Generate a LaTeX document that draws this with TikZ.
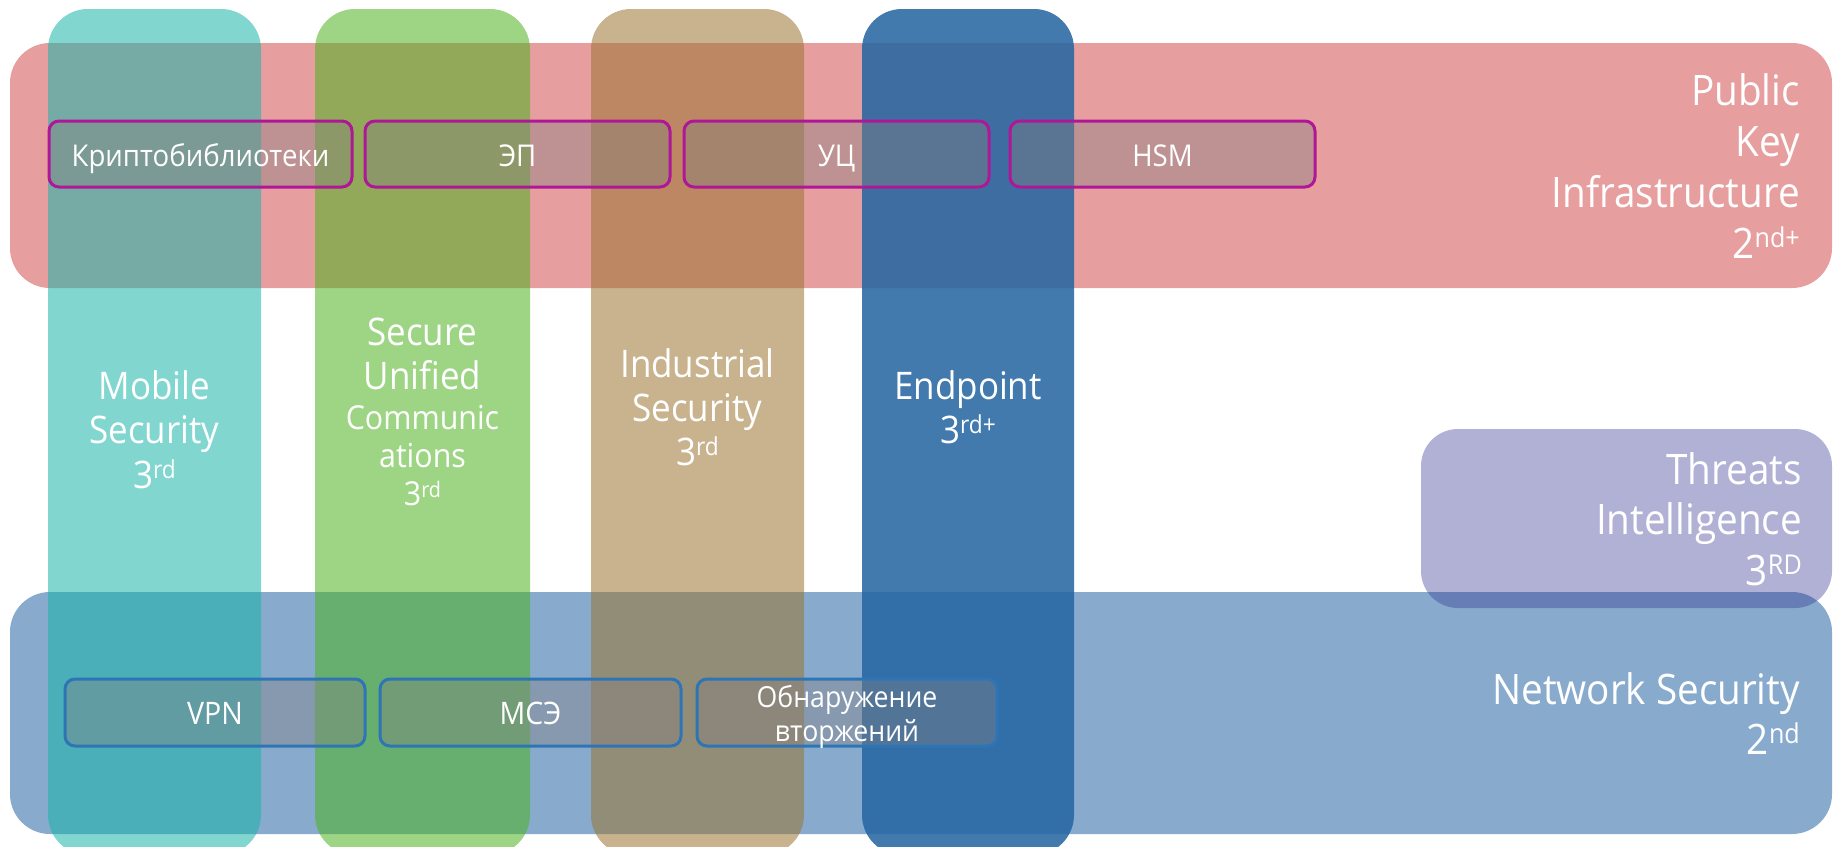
\documentclass[tikz,border=0pt]{standalone}
\usepackage{fontspec}
\setmainfont{Open Sans}[FakeStretch=0.92]
\usepackage{graphicx}
\newcommand\cstack[1]{\vtop{\halign{\hfil##\hfil\cr#1\crcr}}}
\newcommand\rstack[1]{\vtop{\halign{\hfil##\cr#1\crcr}}}
\newcommand\sups[1]{\smash{\raisebox{0.24em}{\scalebox{0.65}{#1}}}}
\newcommand\fs[2]{\fontsize{#1}{#2}\selectfont}
\definecolor{pkiC}{RGB}{230,158,158}
\definecolor{netC}{RGB}{136,171,205}
\definecolor{thrC}{RGB}{52,55,147}
\definecolor{mobC}{RGB}{26,180,170}
\definecolor{grnC}{RGB}{77,179,33}
\definecolor{brnC}{RGB}{155,117,50}
\definecolor{endC}{RGB}{38,102,162}
\definecolor{boxG}{RGB}{132,128,128}
\definecolor{pkiLine}{RGB}{176,22,152}
\definecolor{netLine}{RGB}{46,117,182}
\begin{document}
\begin{tikzpicture}[x=1pt,y=-1pt,
  band/.style={rounded corners=40},
  column/.style={rounded corners=40, fill opacity=0.55},
  pbox/.style={draw=pkiLine, line width=3pt, fill=boxG, fill opacity=0.4, rounded corners=10},
  nbox/.style={draw=netLine, line width=3pt, fill=boxG, fill opacity=0.4, rounded corners=10},
  lbl/.style={text=white, inner sep=0pt}]
\useasboundingbox (0,0) rectangle (1839,846);
% bands
\fill[band, pkiC] (10,43) rectangle (1832,288);
\fill[band, netC] (10,592) rectangle (1832,834);
\fill[rounded corners=37, thrC, fill opacity=0.39] (1421,429) rectangle (1832,608);
% columns
\fill[column, mobC] (48,9) rectangle (261,855);
\fill[column, grnC] (315,9) rectangle (530,855);
\fill[column, brnC] (591,9) rectangle (804,855);
\fill[column, endC, fill opacity=0.87] (862,9) rectangle (1074,855);
% PKI boxes
\draw[pbox] (49,121) rectangle (352,187);
\draw[pbox] (365,121) rectangle (670,187);
\draw[pbox] (684,121) rectangle (989,187);
\draw[pbox] (1010,121) rectangle (1315,187);
% network boxes
\draw[nbox] (65,679) rectangle (365,746);
\draw[nbox] (380,679) rectangle (681,746);
\draw[nbox] (697,679) rectangle (997,746);
% box labels
\node[lbl, anchor=base, font=\fs{30}{36}] (kr) at (200.5,166) {Криптобиблиотеки};
\node[lbl, anchor=base, font=\fs{30}{36}] (ep) at (517.5,166) {ЭП};
\node[lbl, anchor=base, font=\fs{30}{36}] (uc) at (836.5,166) {УЦ};
\node[lbl, anchor=base, font=\fs{30}{36}] (hsm) at (1162.5,166) {HSM};
\node[lbl, anchor=base, font=\fs{31}{36}] (vpn) at (215,724) {VPN};
\node[lbl, anchor=base, font=\fs{31}{36}] (mse) at (530.5,724) {МСЭ};
\node[lbl, anchor=base, font=\fs{29}{34}] (ids) at (847,707) {\cstack{Обнаружение\cr вторжений}};
% column labels
\node[lbl, anchor=base, font=\fs{38}{44.5}] (mob) at (154.5,399) {\cstack{Mobile\cr Security\cr 3\sups{rd}}};
\node[lbl, anchor=base, font=\fs{38}{44}] (suc) at (422.5,345) {\cstack{Secure\cr Unified\cr\noalign{\kern-4pt}{\fs{33}{38}Communic}\cr\noalign{\kern-6pt}{\fs{33}{38}ations}\cr\noalign{\kern-6pt}{\fs{33}{38}3\sups{rd}}}};
\node[lbl, anchor=base, font=\fs{38}{44}] (ind) at (697.5,377) {\cstack{Industrial\cr Security\cr 3\sups{rd}}};
\node[lbl, anchor=base, font=\fs{38}{44}] (endp) at (968,399) {\cstack{Endpoint\cr 3\sups{rd+}}};
% band labels
\node[lbl, anchor=base east, font=\fs{42}{51}] (pki) at (1800,105) {\rstack{Public\cr Key\cr Infrastructure\cr 2\sups{nd+}}};
\node[lbl, anchor=base east, font=\fs{42}{50.5}] (thr) at (1802,484) {\rstack{Threats\cr Intelligence\cr 3\sups{RD}}};
\node[lbl, anchor=base east, font=\fs{42}{50}] (net) at (1800,704) {\rstack{Network Security\cr 2\sups{nd}}};
\end{tikzpicture}
\end{document}
